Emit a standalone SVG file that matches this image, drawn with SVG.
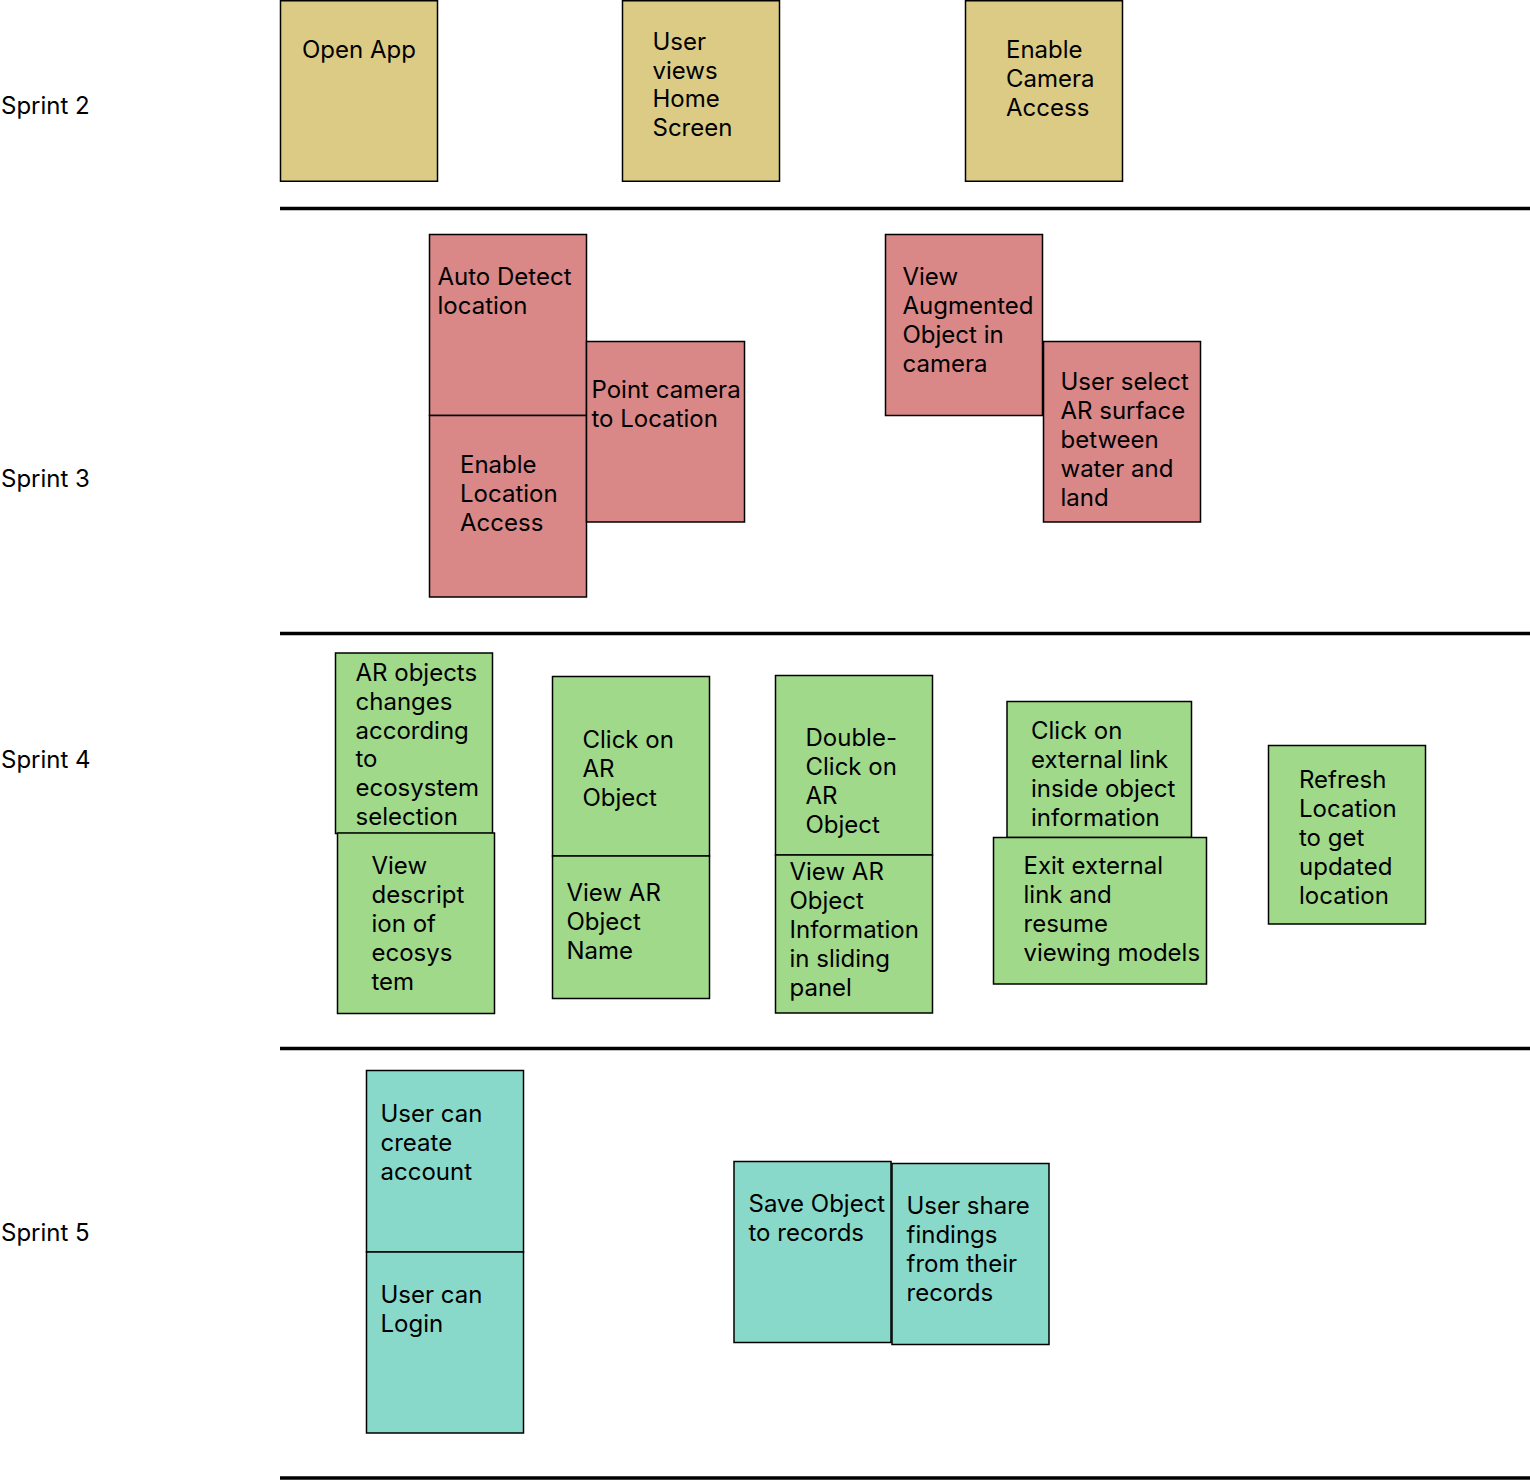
<svg xmlns="http://www.w3.org/2000/svg" width="1530" height="1480" viewBox="0 0 1530 1480">
<style>
text{font-family:Inter,"Noto Sans","Liberation Sans",sans-serif;font-size:24px;fill:#000}
.y{fill:#DBCB85;stroke:#000;stroke-width:1.5}
.r{fill:#D98787;stroke:#000;stroke-width:1.5}
.g{fill:#A0D98A;stroke:#000;stroke-width:1.5}
.t{fill:#88D9CA;stroke:#000;stroke-width:1.5}
.sep{stroke:#000;stroke-width:3.5}
</style>
<rect width="1530" height="1480" fill="#fff"/>
<g id="labels">
<text x="1" y="114">Sprint 2</text>
<text x="1" y="487">Sprint 3</text>
<text x="1" y="768">Sprint 4</text>
<text x="1" y="1241">Sprint 5</text>
</g>
<g id="separators">
<line class="sep" x1="280" y1="208.5" x2="1530" y2="208.5"/>
<line class="sep" x1="280" y1="633.5" x2="1530" y2="633.5"/>
<line class="sep" x1="280" y1="1048.5" x2="1530" y2="1048.5"/>
<line class="sep" x1="280" y1="1478" x2="1530" y2="1478"/>
</g>
<g id="n-open-app"><rect class="y" x="280.5" y="0.75" width="157" height="180.5"/><text x="302" y="58">Open App</text></g>
<g id="n-home"><rect class="y" x="622.5" y="0.75" width="157" height="180.5"/><text y="50"><tspan x="652.5">User</tspan><tspan x="652.5" dy="28.7">views</tspan><tspan x="652.5" dy="28.7">Home</tspan><tspan x="652.5" dy="28.7">Screen</tspan></text></g>
<g id="n-camera"><rect class="y" x="965.5" y="0.75" width="157" height="180.5"/><text y="58"><tspan x="1006">Enable</tspan><tspan x="1006" dy="29">Camera</tspan><tspan x="1006" dy="29">Access</tspan></text></g>

<g id="n-auto-detect"><rect class="r" x="429.5" y="234.5" width="157" height="181"/><text y="285"><tspan x="437.5">Auto Detect</tspan><tspan x="437.5" dy="29">location</tspan></text></g>
<g id="n-enable-location"><rect class="r" x="429.5" y="415.5" width="157" height="181.5"/><text y="472.5"><tspan x="460">Enable</tspan><tspan x="460" dy="29">Location</tspan><tspan x="460" dy="29">Access</tspan></text></g>
<g id="n-point-camera"><rect class="r" x="586.5" y="341.5" width="158" height="180.5"/><text y="397.5"><tspan x="591.5">Point camera</tspan><tspan x="591.5" dy="29">to Location</tspan></text></g>
<g id="n-view-augmented"><rect class="r" x="885.5" y="234.5" width="157" height="181"/><text y="285"><tspan x="902.5">View</tspan><tspan x="902.5" dy="29">Augmented</tspan><tspan x="902.5" dy="29">Object in</tspan><tspan x="902.5" dy="29">camera</tspan></text></g>
<g id="n-user-select"><rect class="r" x="1043.5" y="341.5" width="157" height="180.5"/><text y="389.5"><tspan x="1060.5">User select</tspan><tspan x="1060.5" dy="29">AR surface</tspan><tspan x="1060.5" dy="29">between</tspan><tspan x="1060.5" dy="29">water and</tspan><tspan x="1060.5" dy="29">land</tspan></text></g>

<g id="n-ar-objects"><rect class="g" x="335.5" y="653" width="157" height="180.5"/><text y="681"><tspan x="355.5">AR objects</tspan><tspan x="355.5" dy="28.8">changes</tspan><tspan x="355.5" dy="28.8">according</tspan><tspan x="355.5" dy="28.8">to</tspan><tspan x="355.5" dy="28.8">ecosystem</tspan><tspan x="355.5" dy="28.8">selection</tspan></text></g>
<g id="n-view-description"><rect class="g" x="337.5" y="833" width="157" height="180.5"/><text y="874"><tspan x="371.5">View</tspan><tspan x="371.5" dy="29">descript</tspan><tspan x="371.5" dy="29">ion of</tspan><tspan x="371.5" dy="29">ecosys</tspan><tspan x="371.5" dy="29">tem</tspan></text></g>
<g id="n-click-ar"><rect class="g" x="552.5" y="676.5" width="157" height="179.5"/><text y="747.5"><tspan x="582.5">Click on</tspan><tspan x="582.5" dy="29">AR</tspan><tspan x="582.5" dy="29">Object</tspan></text></g>
<g id="n-view-name"><rect class="g" x="552.5" y="856" width="157" height="142.5"/><text y="901"><tspan x="566.5">View AR</tspan><tspan x="566.5" dy="29">Object</tspan><tspan x="566.5" dy="29">Name</tspan></text></g>
<g id="n-double-click"><rect class="g" x="775.5" y="675.5" width="157" height="179.5"/><text y="746"><tspan x="805.5">Double-</tspan><tspan x="805.5" dy="29">Click on</tspan><tspan x="805.5" dy="29">AR</tspan><tspan x="805.5" dy="29">Object</tspan></text></g>
<g id="n-view-info"><rect class="g" x="775.5" y="855" width="157" height="158"/><text y="880"><tspan x="789.5">View AR</tspan><tspan x="789.5" dy="29">Object</tspan><tspan x="789.5" dy="29">Information</tspan><tspan x="789.5" dy="29">in sliding</tspan><tspan x="789.5" dy="29">panel</tspan></text></g>
<g id="n-external-link"><rect class="g" x="1007" y="701.5" width="184.5" height="136"/><text y="738.5"><tspan x="1031">Click on</tspan><tspan x="1031" dy="29">external link</tspan><tspan x="1031" dy="29">inside object</tspan><tspan x="1031" dy="29">information</tspan></text></g>
<g id="n-exit-link"><rect class="g" x="993.5" y="837.5" width="213" height="146.5"/><text y="873.5"><tspan x="1023.5">Exit external</tspan><tspan x="1023.5" dy="29">link and</tspan><tspan x="1023.5" dy="29">resume</tspan><tspan x="1023.5" dy="29">viewing models</tspan></text></g>
<g id="n-refresh"><rect class="g" x="1268.5" y="745.5" width="157" height="178.5"/><text y="787.5"><tspan x="1299">Refresh</tspan><tspan x="1299" dy="29">Location</tspan><tspan x="1299" dy="29">to get</tspan><tspan x="1299" dy="29">updated</tspan><tspan x="1299" dy="29">location</tspan></text></g>

<g id="n-create-account"><rect class="t" x="366.5" y="1070.5" width="157" height="181.5"/><text y="1121.5"><tspan x="380.5">User can</tspan><tspan x="380.5" dy="29">create</tspan><tspan x="380.5" dy="29">account</tspan></text></g>
<g id="n-login"><rect class="t" x="366.5" y="1252" width="157" height="181"/><text y="1302.5"><tspan x="380.5">User can</tspan><tspan x="380.5" dy="29">Login</tspan></text></g>
<g id="n-save-object"><rect class="t" x="734" y="1161.5" width="157" height="181"/><text y="1211.5"><tspan x="748.5">Save Object</tspan><tspan x="748.5" dy="29">to records</tspan></text></g>
<g id="n-share"><rect class="t" x="892" y="1163.5" width="157" height="181"/><text y="1214"><tspan x="906.5">User share</tspan><tspan x="906.5" dy="29">findings</tspan><tspan x="906.5" dy="29">from their</tspan><tspan x="906.5" dy="29">records</tspan></text></g>
<g id="connectors"></g>
</svg>
